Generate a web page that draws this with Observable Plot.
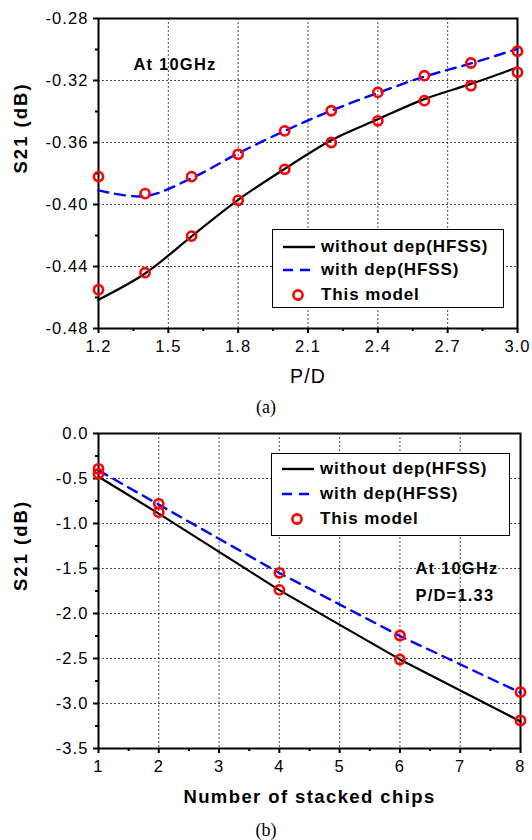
<!DOCTYPE html>
<html>
<head>
<meta charset="utf-8">
<script src="https://cdn.jsdelivr.net/npm/d3@7"></script>
<script src="https://cdn.jsdelivr.net/npm/@observablehq/plot@0.6"></script>
<style>
  html, body { margin: 0; padding: 0; background: #fff; }
  #root { position: relative; width: 532px; height: 840px; background: #fff; overflow: hidden; }
  .chart { position: absolute; left: 0; width: 532px; }
  .cap { position: absolute; left: 0; width: 532px; text-align: center; font-family: "Liberation Serif", "Times New Roman", serif; font-size: 18px; color: #000; }
  .legend { position: absolute; border: 1.5px solid #000; background: #fff; box-sizing: border-box; }
  .legend .row { position: absolute; left: 0; height: 24px; width: 100%; }
  .legend .lab { position: absolute; font-family: "Liberation Sans", Arial, sans-serif; font-weight: bold; font-size: 17px; letter-spacing: 0.9px; line-height: 24px; top: 0; color: #000; white-space: nowrap; }
  .legend svg { position: absolute; top: 0; }
</style>
</head>
<body>
<div id="root"></div>
<script>
// ---------- data ----------
const seriesNames = ["without dep(HFSS)", "with dep(HFSS)", "This model"];

// (a) S21 vs P/D at 10 GHz
const topX = [1.2, 1.4, 1.6, 1.8, 2.0, 2.2, 2.4, 2.6, 2.8, 3.0];
const topWithout = [-0.4614, -0.4445, -0.4205, -0.3970, -0.3770, -0.3585, -0.3450, -0.3320, -0.3222, -0.3115];
const topWith = [-0.3909, -0.3946, -0.3830, -0.3670, -0.3525, -0.3395, -0.3280, -0.3175, -0.3090, -0.2996];
const topModelWithout = [-0.4550, -0.4440, -0.4204, -0.3973, -0.3773, -0.3600, -0.3460, -0.3330, -0.3234, -0.3147];
const topModelWith = [-0.3820, -0.3930, -0.3820, -0.3676, -0.3525, -0.3395, -0.3277, -0.3169, -0.3087, -0.3011];
const topXTicks = [1.2, 1.5, 1.8, 2.1, 2.4, 2.7, 3.0];
const topXMinor = [1.35, 1.65, 1.95, 2.25, 2.55, 2.85];
const topYTicks = [-0.48, -0.44, -0.40, -0.36, -0.32, -0.28];
const topYMinor = [-0.46, -0.42, -0.38, -0.34, -0.30];

// (b) S21 vs number of stacked chips
const botX = [1, 2, 4, 6, 8];
const botWithout = [-0.480, -0.890, -1.740, -2.510, -3.200];
const botWith = [-0.410, -0.790, -1.550, -2.250, -2.880];
const botModelWithout = [-0.448, -0.874, -1.737, -2.511, -3.189];
const botModelWith = [-0.392, -0.781, -1.548, -2.244, -2.874];
const botXTicks = [1, 2, 3, 4, 5, 6, 7, 8];
const botXMinor = [1.5, 2.5, 3.5, 4.5, 5.5, 6.5, 7.5];
const botYTicks = [0, -0.5, -1.0, -1.5, -2.0, -2.5, -3.0, -3.5];
const botYMinor = [-0.25, -0.75, -1.25, -1.75, -2.25, -2.75, -3.25];

// ---------- helpers ----------
const FONT = "'Liberation Sans', Arial, sans-serif";
const toRows = (xs, ys) => xs.map((x, i) => ({x, y: ys[i]}));

function makeChart(cfg) {
  const inner = (t) => t.slice(1, -1);
  const svg = Plot.plot({
    width: 532,
    height: cfg.height,
    marginLeft: cfg.ml, marginRight: cfg.mr, marginTop: cfg.mt, marginBottom: cfg.mb,
    x: {domain: cfg.xDomain},
    y: {domain: cfg.yDomain},
    style: {fontFamily: FONT, fontSize: "16.5px", color: "#000", background: "transparent", overflow: "visible"},
    marks: [
      Plot.gridX(inner(cfg.xTicks), {stroke: "#000", strokeOpacity: 0.7, strokeDasharray: "2,2", strokeWidth: 1}),
      Plot.gridY(inner(cfg.yTicks), {stroke: "#000", strokeOpacity: 0.7, strokeDasharray: "2,2", strokeWidth: 1}),
      Plot.axisX(cfg.xTicks, {tickSize: 5, tickPadding: 7, strokeWidth: 2, fontSize: 16.5, tickFormat: cfg.xFmt, label: null}),
      Plot.axisX(cfg.xMinor, {tickSize: 3, strokeWidth: 2, tickFormat: () => "", label: null}),
      Plot.axisY(cfg.yTicks, {tickSize: 5, tickPadding: 5, strokeWidth: 2, fontSize: 16.5, tickFormat: cfg.yFmt, label: null}),
      Plot.axisY(cfg.yMinor, {tickSize: 3, strokeWidth: 2, tickFormat: () => "", label: null}),
      Plot.frame({stroke: "#000", strokeWidth: 2}),
      Plot.line(toRows(cfg.xs, cfg.without), {x: "x", y: "y", stroke: "#000", strokeWidth: 2.2, curve: cfg.curve}),
      Plot.line(toRows(cfg.xs, cfg.with), {x: "x", y: "y", stroke: "#0000ff", strokeWidth: 2.4, strokeDasharray: "10,7", curve: cfg.curve}),
      Plot.dot(toRows(cfg.xs, cfg.modelWithout), {x: "x", y: "y", r: 4.6, stroke: "#ff0000", strokeWidth: 2.6, fill: "none"}),
      Plot.dot(toRows(cfg.xs, cfg.modelWith), {x: "x", y: "y", r: 4.6, stroke: "#ff0000", strokeWidth: 2.6, fill: "none"}),
      Plot.text([cfg.xLabel], {frameAnchor: "bottom", dy: cfg.xLabelDy, fontSize: cfg.xLabelSize, fontWeight: cfg.xLabelWeight, fill: "#000"}),
      Plot.text([cfg.yLabel], {frameAnchor: "left", dx: -77, rotate: -90, fontSize: 18.5, fontWeight: "bold", fill: "#000"}),
      ...cfg.notes.map(n => Plot.text([n.text], {frameAnchor: "top-left", dx: n.dx, dy: n.dy, textAnchor: "start", fontSize: 16.5, fontWeight: "bold", fill: "#000"}))
    ]
  });
  // widen the type a little, like the reference's stretched lettering
  const spacing = new Map([[cfg.yLabel, "2px"], [cfg.xLabel, cfg.xLabelSpacing]]);
  cfg.notes.forEach(n => spacing.set(n.text, "1.2px"));
  d3.select(svg).selectAll("text").each(function () {
    const t = this.textContent;
    if (spacing.has(t)) this.style.letterSpacing = spacing.get(t);
    else this.style.letterSpacing = "1.1px";
  });
  return svg;
}

function makeLegend(parent, left, top, width, height, rowCenters) {
  const box = document.createElement("div");
  box.className = "legend";
  Object.assign(box.style, {left: left + "px", top: top + "px", width: width + "px", height: height + "px"});
  seriesNames.forEach((name, i) => {
    const row = document.createElement("div");
    row.className = "row";
    row.style.top = (rowCenters[i] - 12) + "px";
    let sample;
    if (i === 0) sample = `<svg width="34" height="24" style="left:9px"><line x1="1" x2="33" y1="12" y2="12" stroke="#000" stroke-width="2.4"/></svg>`;
    else if (i === 1) sample = `<svg width="34" height="24" style="left:9px"><line x1="1" x2="33" y1="12" y2="12" stroke="#0000ff" stroke-width="2.4" stroke-dasharray="10,7"/></svg>`;
    else sample = `<svg width="34" height="24" style="left:9px"><circle cx="16" cy="12" r="4.6" fill="none" stroke="#ff0000" stroke-width="2.6"/></svg>`;
    row.innerHTML = sample + `<span class="lab" style="left:48px">${name}</span>`;
    box.appendChild(row);
  });
  parent.appendChild(box);
}

const root = document.getElementById("root");

// ---------- chart (a) ----------
const wrapA = document.createElement("div");
wrapA.className = "chart";
wrapA.style.top = "0px";
wrapA.style.height = "395px";
wrapA.appendChild(makeChart({
  height: 395, ml: 98, mr: 15, mt: 18, mb: 67,
  xDomain: [1.2, 3.0], yDomain: [-0.48, -0.28],
  xTicks: topXTicks, xMinor: topXMinor, yTicks: topYTicks, yMinor: topYMinor,
  xFmt: d => d.toFixed(1), yFmt: d => d.toFixed(2),
  xs: topX, without: topWithout, with: topWith, modelWithout: topModelWithout, modelWith: topModelWith,
  curve: "catmull-rom",
  xLabel: "P/D", xLabelDy: 54, xLabelSize: 19.5, xLabelWeight: "normal", xLabelSpacing: "1.2px",
  yLabel: "S21 (dB)",
  notes: [{text: "At 10GHz", dx: 35, dy: 40}]
}));
makeLegend(wrapA, 272, 229, 232, 79, [17, 40, 65]);
root.appendChild(wrapA);

const capA = document.createElement("div");
capA.className = "cap";
capA.style.top = "395px";
capA.style.height = "25px";
capA.style.lineHeight = "25px";
capA.textContent = "(a)";
root.appendChild(capA);

// ---------- chart (b) ----------
const wrapB = document.createElement("div");
wrapB.className = "chart";
wrapB.style.top = "420px";
wrapB.style.height = "395px";
wrapB.appendChild(makeChart({
  height: 395, ml: 98, mr: 12, mt: 13, mb: 67,
  xDomain: [1, 8], yDomain: [-3.5, 0],
  xTicks: botXTicks, xMinor: botXMinor, yTicks: botYTicks, yMinor: botYMinor,
  xFmt: d => String(d), yFmt: d => d.toFixed(1),
  xs: botX, without: botWithout, with: botWith, modelWithout: botModelWithout, modelWith: botModelWith,
  curve: "linear",
  xLabel: "Number of stacked chips", xLabelDy: 54, xLabelSize: 18.5, xLabelWeight: "bold", xLabelSpacing: "1.4px",
  yLabel: "S21 (dB)",
  notes: [{text: "At 10GHz", dx: 317, dy: 129}, {text: "P/D=1.33", dx: 317, dy: 156}]
}));
makeLegend(wrapB, 271, 33, 239, 83, [15, 40, 65]);
root.appendChild(wrapB);

const capB = document.createElement("div");
capB.className = "cap";
capB.style.top = "815px";
capB.style.height = "30px";
capB.style.lineHeight = "30px";
capB.textContent = "(b)";
root.appendChild(capB);
</script>
</body>
</html>
